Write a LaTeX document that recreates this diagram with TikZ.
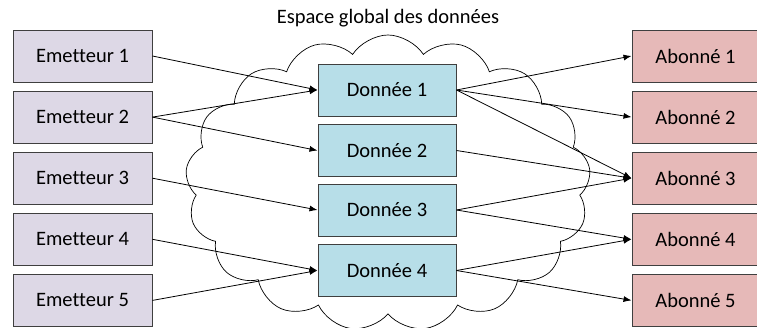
\documentclass[tikz,border=0pt]{standalone}
\usepackage{fontspec}
\setmainfont{Carlito}[Ligatures={NoCommon}]
\usetikzlibrary{shapes.symbols,arrows.meta}
\definecolor{emfill}{HTML}{DDD8E6}
\definecolor{abfill}{HTML}{E6B9B8}
\definecolor{dofill}{HTML}{B7DEE8}
\definecolor{boxline}{HTML}{3F3F3F}
\begin{document}
\begin{tikzpicture}[x=1pt,y=-1pt,
  box/.style={draw=boxline,line width=1pt,minimum height=52pt,inner sep=0pt,
    font=\fontsize{20.5}{24}\selectfont},
  emit/.style={box,fill=emfill,minimum width=139pt},
  abon/.style={box,fill=abfill,minimum width=127pt},
  donn/.style={box,fill=dofill,minimum width=138pt},
  conn/.style={line width=0.8pt,-{Latex[length=8pt,width=6pt]}}]
\useasboundingbox (0,0) rectangle (757,327);
\node[cloud,draw,line width=0.7pt,cloud puffs=17,cloud puff arc=115,cloud ignores aspect,
  minimum width=405pt,minimum height=296pt,inner sep=0pt] (cl) at (388,183) {};
\node[font=\fontsize{20.5}{24}\selectfont] (title) at (388,18) {Espace global des données};
\foreach \i in {1,...,5}{
  \node[emit] (e\i) at (82.5,{56+61.1*(\i-1)}) {Emetteur \i};
  \node[abon,anchor=west] (a\i) at (631.5,{56+61.1*(\i-1)}) {Abonné \i};
}
\node[donn] (d1) at (387,90) {Donnée 1};
\node[donn] (d2) at (387,150.5) {Donnée 2};
\node[donn] (d3) at (387,210) {Donnée 3};
\node[donn] (d4) at (387,270.5) {Donnée 4};
\draw[conn] (e1.east) -- (d1.west);
\draw[conn] (e2.east) -- (d1.west);
\draw[conn] (e2.east) -- (d2.west);
\draw[conn] (e3.east) -- (d3.west);
\draw[conn] (e4.east) -- (d4.west);
\draw[conn] (e5.east) -- (d4.west);
\draw[conn] (d1.east) -- (a1.west);
\draw[conn] (d1.east) -- (a2.west);
\draw[conn] (d1.east) -- (a3.west);
\draw[conn] (d2.east) -- (a3.west);
\draw[conn] (d3.east) -- (a3.west);
\draw[conn] (d3.east) -- (a4.west);
\draw[conn] (d4.east) -- (a4.west);
\draw[conn] (d4.east) -- (a5.west);
\end{tikzpicture}
\end{document}
